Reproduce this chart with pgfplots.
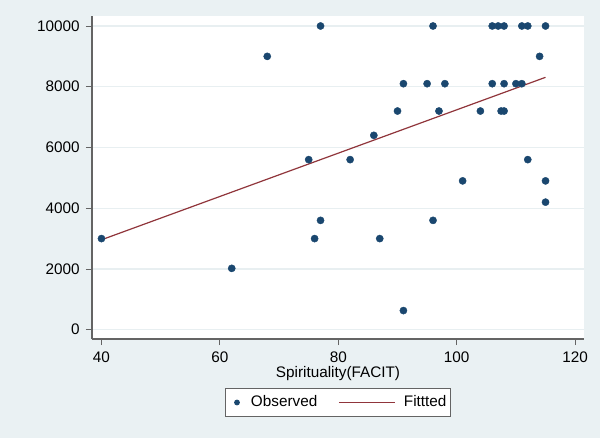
\documentclass[border=0pt]{standalone}
\usepackage{fontspec}
\setmainfont{Liberation Sans}
\usepackage{pgfplots}
\pgfplotsset{compat=1.18}
\definecolor{bgc}{RGB}{234,241,243}
\definecolor{gridc}{RGB}{232,239,241}
\definecolor{navy}{RGB}{26,71,111}
\definecolor{maroonc}{RGB}{144,53,59}
\definecolor{axc}{RGB}{100,100,100}
\begin{document}
\fontsize{15.3bp}{18bp}\selectfont
\begin{tikzpicture}
\fill[bgc] (0,0) rectangle (600bp,438bp);
\begin{axis}[
  at={(92bp,99bp)}, anchor=south west,
  scale only axis, width=492bp, height=323bp,
  xmin=38.4, xmax=121.5, ymin=-306, ymax=10329,
  axis x line*=bottom, axis y line*=left,
  axis line style={-, axc, line width=1.1bp},
  axis background/.style={fill=white},
  xtick={40,60,80,100,120},
  ytick={0,2000,4000,6000,8000,10000},
  scaled ticks=false,
  /pgf/number format/.cd, 1000 sep={}, assume math mode=true,
  /pgfplots/.cd,
  tick align=outside, major tick length=6bp,
  tick style={axc, line width=0.9bp},
  ymajorgrids, grid style={gridc, line width=1.2bp},
  ticklabel style={font=\fontsize{15.3bp}{18bp}\selectfont, text=black},
  xticklabel style={anchor=north, inner sep=0pt, yshift=-6.3bp},
  yticklabel style={xshift=-1bp},
  xlabel={Spirituality(FACIT)},
  xlabel style={at={(axis description cs:0.5,-0.106)}, anchor=center, inner sep=0pt, font=\fontsize{15.3bp}{18bp}\selectfont},
  legend columns=2,
  legend style={at={(0.5,-0.1966)}, anchor=center, draw=axc, fill=white, line width=0.9bp,
    font=\fontsize{15.3bp}{18bp}\selectfont, inner xsep=2bp, inner ysep=5bp,
    /tikz/every even column/.append style={column sep=19bp}},
  clip=false,
]
\addplot[only marks, mark=*, mark size=3.6bp, mark options={fill=navy, draw=navy},
  legend image code/.code={\path[draw=none, fill=none] (-9.4bp,-2.4bp) rectangle (12bp,2.4bp);\fill[navy] (0bp,0bp) circle (2.4bp);}]
coordinates {
(40,3000) (62,2020) (68,9000) (75,5600) (76,3000) (77,10000) (77,3600)
(82,5600) (86,6400) (87,3000) (90,7200) (91,8100) (91,630) (95,8100)
(96,10000) (96,3600) (97,7200) (98,8100) (101,4900) (104,7200)
(106,10000) (106,8100) (107,10000) (107.5,7200) (108,10000) (108,8100)
(108,7200) (110,8100) (111,10000) (111,8100) (112,10000) (112,5600)
(114,9000) (115,10000) (115,4900) (115,4200)
};
\addlegendentry{Observed}
\addplot[maroonc, line width=1.2bp, no marks,
  legend image code/.code={\path[draw=none, fill=none] (0bp,-2bp) rectangle (63bp,2bp);\draw[maroonc, line width=1.2bp] (0bp,0bp) -- (56bp,0bp);}]
coordinates {(40,2960) (115,8310)};
\addlegendentry{Fittted}
\end{axis}
\end{tikzpicture}
\end{document}
